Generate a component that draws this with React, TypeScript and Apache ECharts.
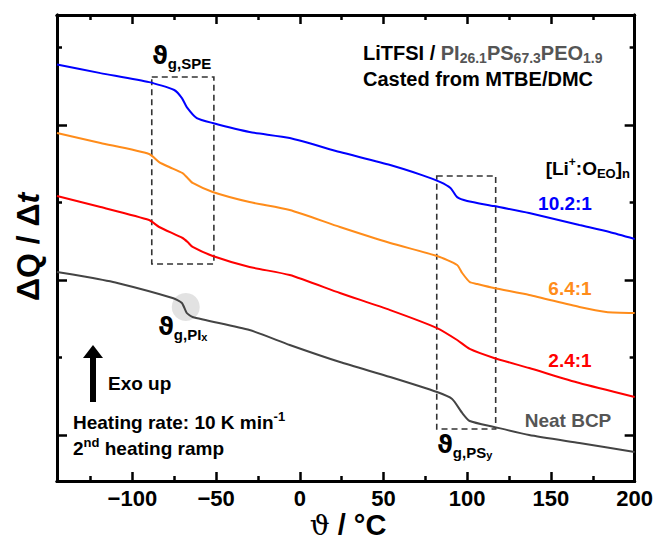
import React, { useEffect, useRef } from 'react';
import * as echarts from 'echarts';

// Temperature range (°C) and heat-flow range (arbitrary units, one major tick = 1)
const X_MIN = -145;
const X_MAX = 200;
const Y_MIN = -0.297;
const Y_MAX = 2.71;

const xMajorTicks = [-100, -50, 0, 50, 100, 150, 200];
const xMinorTicks = [-125, -75, -25, 25, 75, 125, 175];
const yMajorTicks = [0, 1, 2];
const yMinorTicks = [0.5, 1.5, 2.5];

// DSC traces, 2nd heating: [temperature °C, heat flow a.u.]
const trace10_2 = [
  [-145, 2.39], [-119, 2.335], [-90, 2.277], [-75, 2.226], [-70.4, 2.174], [-67.5, 2.116],
  [-61.5, 2.045], [-52, 2.013], [-30, 1.955], [-6, 1.916], [24, 1.826], [54, 1.742],
  [73, 1.677], [84, 1.632], [90, 1.594], [94, 1.535], [100, 1.51], [116, 1.477],
  [137, 1.432], [167, 1.355], [185, 1.31], [200, 1.265],
];
const trace6_4 = [
  [-145, 1.948], [-119, 1.884], [-90, 1.813], [-84, 1.761], [-78, 1.729], [-70, 1.69],
  [-67, 1.658], [-64, 1.626], [-52, 1.568], [-30, 1.503], [-6, 1.452], [24, 1.342],
  [54, 1.239], [82, 1.155], [94, 1.097], [97, 1.045], [101.5, 0.987], [106, 0.974],
  [116, 0.948], [137, 0.903], [167, 0.826], [183, 0.794], [200, 0.787],
];
const trace2_4 = [
  [-145, 1.542], [-119, 1.471], [-90, 1.387], [-84, 1.342], [-70, 1.271], [-67, 1.245],
  [-64, 1.213], [-52, 1.155], [-30, 1.084], [-6, 1.032], [24, 0.916], [54, 0.806],
  [82, 0.69], [94, 0.613], [101.5, 0.555], [116, 0.497], [137, 0.432], [167, 0.335],
  [200, 0.245],
];
const traceNeat = [
  [-145, 1.052], [-127, 1.019], [-109, 0.981], [-76, 0.884], [-70.4, 0.852], [-67.5, 0.787],
  [-64, 0.761], [-30, 0.677], [-6, 0.581], [24, 0.471], [54, 0.374], [82, 0.277],
  [91, 0.232], [97, 0.142], [101.5, 0.09], [116, 0.052], [137, 0.0], [167, -0.052],
  [200, -0.11],
];

// Glass-transition regions: [[T1, Q1], [T2, Q2]]
const boxSPE = [[-88.4, 2.31], [-51.3, 1.103]];
const boxPS = [[81.8, 1.671], [117, 0.039]];
const markPI = [[-68.1, 0.826]];

const SANS = '"Liberation Sans", Arial, Helvetica, sans-serif';
const THETA = '"DejaVu Sans", sans-serif';

const minus = (v: number) => (v < 0 ? '\u2212' + Math.abs(v) : String(v));

function makeX(position: string, ticks: number[], len: number, labels: boolean) {
  return {
    type: 'value', position, min: X_MIN, max: X_MAX,
    axisLine: { show: true, onZero: false, lineStyle: { color: '#000', width: 3 } },
    axisTick: { show: true, inside: true, length: len, customValues: ticks, lineStyle: { color: '#000', width: 2.5 } },
    axisLabel: labels
      ? { show: true, customValues: xMajorTicks, formatter: minus, fontSize: 22, fontWeight: 'bold', color: '#000', fontFamily: SANS, margin: 6 }
      : { show: false },
    splitLine: { show: false },
  };
}

function makeY(position: string, ticks: number[], len: number) {
  return {
    type: 'value', position, min: Y_MIN, max: Y_MAX,
    axisLine: { show: true, onZero: false, lineStyle: { color: '#000', width: 3 } },
    axisTick: { show: true, inside: true, length: len, customValues: ticks, lineStyle: { color: '#000', width: 2.5 } },
    axisLabel: { show: false },
    splitLine: { show: false },
  };
}

const txt = (x: number, y: number, text: string, rich: any, align = 'left', extra: any = {}) => ({
  type: 'text', x, y, z: 100, ...extra,
  style: { text, rich, align, verticalAlign: 'middle', fontFamily: SANS, fontWeight: 'bold' },
});

const main = (fontSize: number, fill: string, lineHeight: number) => ({ fontSize, fill, fontWeight: 'bold', fontFamily: SANS, lineHeight });
const sub = (fontSize: number, fill: string, lineHeight: number) => ({ fontSize, fill, fontWeight: 'bold', fontFamily: SANS, lineHeight, verticalAlign: 'bottom' });
const sup = (fontSize: number, fill: string, lineHeight: number) => ({ fontSize, fill, fontWeight: 'bold', fontFamily: SANS, lineHeight, verticalAlign: 'top' });
const theta = (fontSize: number, lineHeight: number) => ({ fontSize, fill: '#000', fontWeight: 'bold', fontFamily: THETA, lineHeight });

export default function App() {
  const ref = useRef<HTMLDivElement>(null);

  useEffect(() => {
    if (!ref.current) return;
    const chart = echarts.init(ref.current, null, { renderer: 'svg' });

    const line = (name: string, data: number[][], color: string, extra: any = {}) => ({
      name, type: 'line', data, xAxisIndex: 0, yAxisIndex: 0, z: 3,
      showSymbol: false, smooth: 0.2,
      lineStyle: { color, width: 2 }, ...extra,
    });

    const option = {
      animation: false,
      grid: { left: 57, right: 21, top: 15, bottom: 62 },
      xAxis: [
        makeX('bottom', xMajorTicks, 9, true),
        makeX('bottom', xMinorTicks, 5, false),
        makeX('top', xMajorTicks, 9, false),
        makeX('top', xMinorTicks, 5, false),
      ],
      yAxis: [
        makeY('left', yMajorTicks, 10),
        makeY('left', yMinorTicks, 5),
        makeY('right', yMajorTicks, 10),
        makeY('right', yMinorTicks, 5),
      ],
      series: [
        {
          type: 'scatter', data: markPI, xAxisIndex: 0, yAxisIndex: 0, z: 1,
          symbol: 'circle', symbolSize: 28, silent: true,
          itemStyle: { color: 'rgba(175,175,175,0.45)' },
        },
        line('10.2:1', trace10_2, '#0000ff'),
        line('6.4:1', trace6_4, '#ff8c1a'),
        line('2.4:1', trace2_4, '#ff0000'),
        line('Neat BCP', traceNeat, '#444444', {
          markArea: {
            silent: true,
            itemStyle: { color: 'rgba(0,0,0,0)', borderColor: '#333', borderWidth: 1.6, borderType: [6, 4] },
            data: [
              [{ coord: boxSPE[0] }, { coord: boxSPE[1] }],
              [{ coord: boxPS[0] }, { coord: boxPS[1] }],
            ],
          },
        }),
      ],
      graphic: [
        txt(363, 53, '{k|LiTFSI / }{g|PI}{gs|26.1}{g|PS}{gs|67.3}{g|PEO}{gs|1.9}', {
          k: main(20, '#000', 24), g: main(20, '#555', 24), gs: sub(14, '#555', 13),
        }),
        txt(363, 79, '{k|Casted from MTBE/DMC}', { k: main(20, '#000', 24) }),
        txt(630, 168, '{m|[Li}{p|+}{m|:O}{s|EO}{m|]}{s|n}', {
          m: main(19, '#000', 24), p: sup(12, '#000', 12), s: sub(13, '#000', 13),
        }, 'right'),
        txt(565, 203, '{m|10.2:1}', { m: main(19, '#0000ff', 24) }, 'center'),
        txt(570, 288, '{m|6.4:1}', { m: main(19, '#ff8c1a', 24) }, 'center'),
        txt(570, 360, '{m|2.4:1}', { m: main(19, '#ff0000', 24) }, 'center'),
        txt(568, 420, '{m|Neat BCP}', { m: main(19, '#555', 24) }, 'center'),
        txt(108, 383, '{m|Exo up}', { m: main(19, '#000', 24) }),
        txt(73, 422, '{m|Heating rate: 10 K min}{p|-1}', { m: main(19, '#000', 24), p: sup(13, '#000', 13) }),
        txt(73, 448, '{m|2}{p|nd}{m| heating ramp}', { m: main(19, '#000', 24), p: sup(13, '#000', 13) }),
        txt(152, 56, '{t|ϑ}{s|g,SPE}', { t: theta(24, 30), s: sub(15, '#000', 18) }),
        txt(158, 327, '{t|ϑ}{s|g,PI}{x|x}', { t: theta(24, 30), s: sub(15, '#000', 18), x: sub(11, '#000', 10) }),
        txt(437, 445, '{t|ϑ}{s|g,PS}{x|y}', { t: theta(24, 30), s: sub(15, '#000', 18), x: sub(11, '#000', 10) }),
        txt(28, 247, '{b|ΔQ / Δ}{i|t}', {
          b: main(32, '#000', 36), i: { ...main(32, '#000', 36), fontStyle: 'italic' },
        }, 'center', { rotation: Math.PI / 2 }),
        txt(348, 525, '{t|ϑ}{b| / °C}', {
          t: { fontSize: 28, fill: '#000', fontFamily: '"DejaVu Serif", serif', lineHeight: 22 },
          b: main(29, '#000', 22),
        }, 'center'),
        {
          type: 'polygon', z: 100,
          shape: { points: [[83, 358], [93, 345], [103, 358]] },
          style: { fill: '#000' },
        },
        {
          type: 'rect', z: 100,
          shape: { x: 90, y: 357, width: 6, height: 45 },
          style: { fill: '#000' },
        },
      ],
    };

    chart.setOption(option as any);
    return () => chart.dispose();
  }, []);

  return (
    <div
      ref={ref}
      style={{ position: 'fixed', left: 0, top: 0, width: 656, height: 543, background: '#fff' }}
    />
  );
}
